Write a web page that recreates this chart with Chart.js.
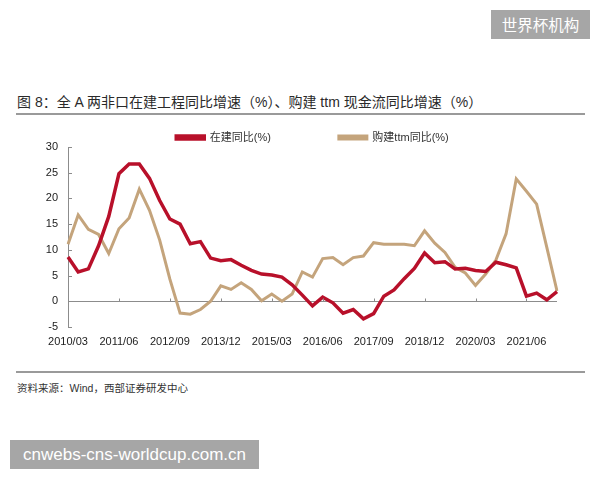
<!DOCTYPE html>
<html>
<head>
<meta charset="utf-8">
<script src="https://cdn.jsdelivr.net/npm/chart.js@4"></script>
<style>
  body { margin: 0; background: #fff; }
  #pagina { position: relative; width: 600px; height: 480px; overflow: hidden; font-family: Arial, "Liberation Sans", "Noto Sans CJK SC", sans-serif; }
  #titulo { position: absolute; left: 17px; top: 91px; font-size: 14px; color: #2a2a2a; white-space: nowrap; }
  .linea { position: absolute; left: 16px; width: 569px; height: 2px; background: #9a9a9a; }
  #fuente { position: absolute; left: 17px; top: 380px; font-size: 10.5px; color: #333; white-space: nowrap; }
  #lienzo { position: absolute; left: 0; top: 0; width: 600px; height: 360px; }
  .marca { position: absolute; background: #a6a6a6; color: #fff; text-align: center; line-height: 29px; height: 29px; }
  #marca1 { left: 491px; top: 10px; width: 99px; font-size: 15.5px; font-family: "Noto Sans CJK SC", sans-serif; }
  #marca2 { left: 10px; top: 440px; width: 249px; font-size: 17px; font-family: "Liberation Sans", Arial, sans-serif; }
</style>
</head>
<body>
<div id="pagina">
  <div class="marca" id="marca1">世界杯机构</div>
  <div id="titulo">图 8：全 A 两非口在建工程同比增速（%）、购建 ttm 现金流同比增速（%）</div>
  <div class="linea" style="top:113px"></div>
  <div id="lienzo"><canvas id="grafico"></canvas></div>
  <div class="linea" style="top:371px"></div>
  <div id="fuente">资料来源：Wind，西部证券研发中心</div>
  <div class="marca" id="marca2">cnwebs-cns-worldcup.com.cn</div>
</div>
<script>
// 1. Datos del gráfico (trimestral, 2010/03 - 2022/03)
const trimestres = [];
for (let anio = 2010; anio <= 2022; anio++) {
  ["03", "06", "09", "12"].forEach((m) => {
    if (anio === 2022 && m !== "03") return;
    trimestres.push(anio + "/" + m);
  });
}

const enConstruccion = [
  8.6, 5.7, 6.3, 10.8, 16.5, 24.8, 26.7, 26.7, 23.9, 19.6,
  16.0, 15.0, 11.2, 11.6, 8.4, 7.9, 8.1, 7.0, 6.0, 5.3,
  5.1, 4.7, 3.2, 1.2, -0.9, 0.8, -0.3, -2.3, -1.6, -3.4,
  -2.4, 1.0, 2.2, 4.4, 6.4, 9.4, 7.5, 7.7, 6.3, 6.4,
  6.0, 5.8, 7.6, 7.1, 6.5, 1.0, 1.6, 0.3, 1.9
];

const compraTtm = [
  11.1, 16.8, 14.0, 13.0, 9.3, 14.1, 16.2, 21.8, 17.7, 11.9,
  4.3, -2.3, -2.5, -1.6, 0.0, 3.0, 2.3, 3.6, 2.3, 0.1,
  1.4, 0.0, 1.4, 5.7, 4.7, 8.3, 8.5, 7.1, 8.5, 8.8,
  11.4, 11.1, 11.1, 11.1, 10.8, 13.7, 11.3, 9.5, 6.6, 5.5,
  3.1, 5.3, 8.0, 13.1, 23.8, 21.4, 18.9, 10.5, 2.0
];

const cadaCuantos = 5; // una etiqueta cada 5 trimestres

const colorRojo = "#b8102a";
const colorTostado = "#c4a47c";
const colorEje = "#8c8c8c";

// marcas cortas de los ejes (hacia dentro)
const marcasEje = {
  id: "marcasEje",
  afterDraw(chart) {
    const { ctx, chartArea, scales } = chart;
    const x = scales.x;
    const y = scales.y;
    const y0 = Math.round(y.getPixelForValue(0)) + 0.5;
    ctx.save();
    ctx.strokeStyle = colorEje;
    ctx.lineWidth = 1;
    ctx.beginPath();
    y.ticks.forEach((t) => {
      const py = Math.round(y.getPixelForValue(t.value)) + 0.5;
      ctx.moveTo(chartArea.left, py);
      ctx.lineTo(chartArea.left + 4, py);
    });
    trimestres.forEach((t, i) => {
      if (i === 0 || i % cadaCuantos !== 0) return;
      const px = Math.round(x.getPixelForValue(i)) + 0.5;
      ctx.moveTo(px, y0);
      ctx.lineTo(px, y0 - 3);
    });
    ctx.stroke();
    ctx.restore();
  },
};

const ctx = document.getElementById("grafico");

let chart = new Chart(ctx, {
  type: "line",
  data: {
    labels: trimestres,
    datasets: [
      {
        label: "在建同比(%)",
        data: enConstruccion,
        borderColor: colorRojo,
        backgroundColor: colorRojo,
        borderWidth: 3.5,
        pointRadius: 0,
        tension: 0,
      },
      {
        label: "购建ttm同比(%)",
        data: compraTtm,
        borderColor: colorTostado,
        backgroundColor: colorTostado,
        borderWidth: 3,
        pointRadius: 0,
        tension: 0,
      },
    ],
  },
  options: {
    responsive: true,
    maintainAspectRatio: false,
    animation: false,
    layout: { padding: { left: 0, right: 43, top: 64, bottom: 8 } },
    plugins: {
      tooltip: { enabled: false },
      legend: {
        position: "top",
        fullSize: false,
        maxHeight: 83,
        labels: {
          boxWidth: 28,
          boxHeight: 3,
          padding: 68,
          color: "#333",
          font: { family: 'Arial, "Noto Sans CJK SC"', size: 11 },
        },
      },
    },
    scales: {
      x: {
        offset: false,
        grid: { display: false, drawTicks: false },
        border: { display: false },
        ticks: {
          autoSkip: false,
          maxRotation: 0,
          minRotation: 0,
          padding: 8,
          color: "#222",
          font: { family: "Arial", size: 11 },
          callback: (v, i) => (i % cadaCuantos === 0 ? trimestres[i] : ""),
        },
        afterFit: (s) => { s.height = 25; },
      },
      y: {
        min: -5,
        max: 30,
        grid: {
          drawTicks: false,
          color: (c) => (c.tick && c.tick.value === 0 ? colorEje : "rgba(0,0,0,0)"),
        },
        border: { display: true, color: colorEje, width: 1 },
        ticks: {
          stepSize: 5,
          padding: 10,
          color: "#222",
          font: { family: "Arial", size: 11 },
        },
        afterFit: (s) => { s.width = 68; },
      },
    },
  },
  plugins: [marcasEje],
});
</script>
</body>
</html>
